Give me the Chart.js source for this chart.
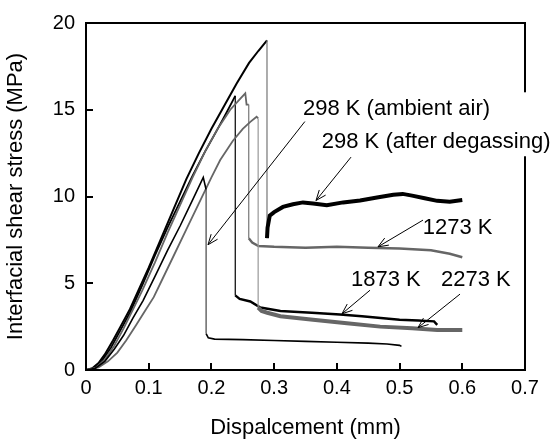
<!DOCTYPE html>
<html>
<head>
<meta charset="utf-8">
<title>Interfacial shear stress vs displacement</title>
<script src="https://cdn.jsdelivr.net/npm/chart.js@4.4.1/dist/chart.umd.min.js"></script>
<style>
    html, body { margin: 0; padding: 0; background: #fff; }
    canvas { display: block; }
</style>
</head>
<body>
<canvas id="chart-stress" width="551" height="445"></canvas>
<script>
// tick values
var xTicks = [0, 0.1, 0.2, 0.3, 0.4, 0.5, 0.6, 0.7];
var yTicks = [0, 5, 10, 15, 20];

// 298 K (after degassing)
var degassedX = [0, 0.01, 0.02, 0.03, 0.043, 0.055, 0.07, 0.085, 0.10, 0.12, 0.14, 0.16, 0.18, 0.20, 0.22, 0.24, 0.26, 0.275, 0.2886,
    0.2886, 0.2895, 0.293, 0.30, 0.314, 0.33, 0.346, 0.362, 0.384, 0.41, 0.437, 0.464, 0.49, 0.505, 0.52, 0.54, 0.56, 0.58, 0.60];
var degassedY = [0, 0.1, 0.4, 0.9, 1.7, 2.5, 3.5, 4.7, 5.9, 7.6, 9.3, 11.0, 12.5, 13.9, 15.2, 16.5, 17.7, 18.4, 19.0,
    7.6, 8.2, 8.9, 9.1, 9.4, 9.55, 9.66, 9.6, 9.5, 9.66, 9.77, 9.94, 10.1, 10.15, 10.05, 9.9, 9.75, 9.7, 9.8];

// 1873 K
var k1873X = [0, 0.012, 0.025, 0.04, 0.055, 0.07, 0.09, 0.11, 0.13, 0.15, 0.17, 0.19, 0.21, 0.225, 0.238,
    0.238, 0.245, 0.262, 0.278, 0.31, 0.36, 0.405, 0.44, 0.47, 0.50, 0.53, 0.555, 0.56];
var k1873Y = [0, 0.1, 0.5, 1.3, 2.3, 3.3, 4.9, 6.6, 8.2, 9.7, 11.2, 12.6, 13.9, 14.9, 15.8,
    4.3, 4.1, 3.95, 3.6, 3.4, 3.3, 3.2, 3.1, 3.0, 2.9, 2.85, 2.8, 2.6];

// 1273 K
var k1273X = [0, 0.015, 0.03, 0.045, 0.06, 0.075, 0.09, 0.11, 0.13, 0.15, 0.17, 0.19, 0.21, 0.23, 0.245, 0.254, 0.256, 0.2595,
    0.2595, 0.265, 0.275, 0.30, 0.35, 0.40, 0.45, 0.50, 0.55, 0.58, 0.60];
var k1273Y = [0, 0.1, 0.6, 1.4, 2.4, 3.5, 4.6, 6.2, 7.9, 9.5, 11.1, 12.6, 13.9, 15.0, 15.6, 15.95, 15.3, 15.3,
    7.6, 7.35, 7.15, 7.1, 7.05, 7.1, 7.05, 7.0, 6.9, 6.7, 6.5];

// 2273 K
var k2273X = [0, 0.02, 0.035, 0.05, 0.064, 0.08, 0.094, 0.108, 0.12, 0.14, 0.16, 0.18, 0.20, 0.214, 0.234, 0.25, 0.262, 0.272, 0.2745,
    0.2745, 0.28, 0.289, 0.31, 0.362, 0.416, 0.469, 0.52, 0.56, 0.60];
var k2273Y = [0, 0.15, 0.5, 1.0, 1.7, 2.6, 3.4, 4.2, 5.1, 6.6, 8.1, 9.6, 11.1, 12.1, 13.2, 13.9, 14.3, 14.6, 14.5,
    3.6, 3.4, 3.3, 3.1, 2.9, 2.7, 2.5, 2.4, 2.3, 2.3];

// 298 K (ambient air)
var ambientX = [0, 0.015, 0.03, 0.045, 0.06, 0.075, 0.091, 0.11, 0.13, 0.15, 0.17, 0.187, 0.1915,
    0.1915, 0.195, 0.205, 0.25, 0.30, 0.35, 0.40, 0.45, 0.48, 0.50, 0.503];
var ambientY = [0, 0.1, 0.5, 1.2, 2.0, 3.0, 4.0, 5.4, 6.9, 8.3, 9.8, 11.1, 10.4,
    2.1, 1.85, 1.78, 1.75, 1.7, 1.65, 1.6, 1.55, 1.5, 1.42, 1.36];

// callout labels (left x, baseline y) and arrows, in data units
var labelText = ["298 K (ambient air)", "298 K (after degassing)", "1273 K", "1873 K", "2273 K"];
var labelX = [0.346, 0.376, 0.537, 0.4226, 0.566];
var labelY = [14.68, 12.78, 7.86, 4.83, 4.83];
var arrowFromX = [0.349, 0.4226, 0.5374, 0.4529, 0.5964];
var arrowFromY = [14.32, 12.27, 8.64, 4.60, 4.375];
var arrowToX = [0.1946, 0.3668, 0.4656, 0.4082, 0.5294];
var arrowToY = [7.22, 9.77, 7.10, 3.24, 2.44];

(function () {
    "use strict";

    var FONT = "'Liberation Sans', Arial, sans-serif";
    var BLACK = "#000";
    var GRAY = "#666";

    function pairs(xs, ys) {
        return xs.map(function (x, i) { return { x: x, y: ys[i] }; });
    }

    // index of the segment where the stress falls off (debonding)
    function dropIndex(ys) {
        var best = 0, k = 0;
        for (var i = 0; i < ys.length - 1; i++) {
            if (ys[i] - ys[i + 1] > best) {
                best = ys[i] - ys[i + 1];
                k = i;
            }
        }
        return k;
    }

    function makeSeries(label, xs, ys, style) {
        var drop = dropIndex(ys);
        return {
            label: label,
            data: pairs(xs, ys),
            borderColor: style.color,
            borderWidth: style.rise,
            pointRadius: 0,
            tension: 0,
            fill: false,
            segment: {
                borderColor: function (c) {
                    return c.p0DataIndex === drop ? style.dropColor : style.color;
                },
                borderWidth: function (c) {
                    if (c.p0DataIndex === drop) {
                        return 1.2;
                    }
                    return c.p0DataIndex > drop ? style.tail : style.rise;
                },
            },
        };
    }

    function drawArrow(ctx, x0, y0, x1, y1) {
        var ang = Math.atan2(y1 - y0, x1 - x0);
        var len = 11, spread = 0.38;
        ctx.beginPath();
        ctx.moveTo(x0, y0);
        ctx.lineTo(x1, y1);
        ctx.moveTo(x1 - len * Math.cos(ang - spread), y1 - len * Math.sin(ang - spread));
        ctx.lineTo(x1, y1);
        ctx.lineTo(x1 - len * Math.cos(ang + spread), y1 - len * Math.sin(ang + spread));
        ctx.stroke();
    }

    var framePlugin = {
        id: "frame",
        afterDatasetsDraw: function (chart) {
            var ctx = chart.ctx;
            var a = chart.chartArea;
            var sx = chart.scales.x;
            var sy = chart.scales.y;
            ctx.save();
            ctx.strokeStyle = BLACK;
            ctx.lineWidth = 2;
            ctx.strokeRect(a.left, a.top, a.right - a.left, a.bottom - a.top);

            // inward tick marks
            ctx.beginPath();
            xTicks.forEach(function (v) {
                var px = Math.round(sx.getPixelForValue(v));
                ctx.moveTo(px, a.bottom);
                ctx.lineTo(px, a.bottom - 7);
            });
            yTicks.forEach(function (v) {
                var py = Math.round(sy.getPixelForValue(v));
                ctx.moveTo(a.left, py);
                ctx.lineTo(a.left + 7, py);
            });
            ctx.stroke();

            ctx.font = "22px " + FONT;
            ctx.textBaseline = "alphabetic";
            ctx.textAlign = "left";

            // white box behind the two 298 K labels (it hides the right border)
            var x0 = Infinity, x1 = -Infinity, y0 = Infinity, y1 = -Infinity;
            for (var i = 0; i < 2; i++) {
                var m = ctx.measureText(labelText[i]);
                var lx = sx.getPixelForValue(labelX[i]);
                var ly = sy.getPixelForValue(labelY[i]);
                x0 = Math.min(x0, lx);
                x1 = Math.max(x1, lx + m.width);
                y0 = Math.min(y0, ly - m.fontBoundingBoxAscent);
                y1 = Math.max(y1, ly + m.actualBoundingBoxDescent);
            }
            ctx.fillStyle = "#fff";
            ctx.fillRect(x0 - 4, y0 - 3, x1 - x0 + 8, y1 - y0 + 6);

            ctx.lineWidth = 1;
            for (var j = 0; j < arrowFromX.length; j++) {
                drawArrow(ctx,
                    sx.getPixelForValue(arrowFromX[j]), sy.getPixelForValue(arrowFromY[j]),
                    sx.getPixelForValue(arrowToX[j]), sy.getPixelForValue(arrowToY[j]));
            }

            ctx.fillStyle = BLACK;
            for (var k = 0; k < labelText.length; k++) {
                ctx.fillText(labelText[k], sx.getPixelForValue(labelX[k]), sy.getPixelForValue(labelY[k]));
            }
            ctx.restore();
        },
    };

    function initChart() {
        var canvas = document.getElementById("chart-stress");
        if (!canvas || typeof Chart === "undefined") {
            return;
        }

        new Chart(canvas, {
            type: "line",
            data: {
                datasets: [
                    makeSeries("298 K (ambient air)", ambientX, ambientY, { color: BLACK, dropColor: "#444", rise: 1.6, tail: 1.6 }),
                    makeSeries("2273 K", k2273X, k2273Y, { color: GRAY, dropColor: "#999", rise: 1.8, tail: 4 }),
                    makeSeries("1273 K", k1273X, k1273Y, { color: GRAY, dropColor: "#777", rise: 1.8, tail: 2.4 }),
                    makeSeries("1873 K", k1873X, k1873Y, { color: BLACK, dropColor: BLACK, rise: 1.8, tail: 2.4 }),
                    makeSeries("298 K (after degassing)", degassedX, degassedY, { color: BLACK, dropColor: "#777", rise: 2, tail: 4 }),
                ],
            },
            options: {
                responsive: false,
                animation: false,
                layout: { padding: { top: 18, right: 26, left: 0, bottom: 0 } },
                plugins: {
                    legend: { display: false },
                    tooltip: { enabled: false },
                },
                scales: {
                    x: {
                        type: "linear",
                        min: 0,
                        max: 0.7,
                        afterBuildTicks: function (scale) {
                            scale.ticks = xTicks.map(function (v) { return { value: v }; });
                        },
                        afterFit: function (scale) { scale.height = 75; },
                        grid: { display: false, drawTicks: false },
                        border: { display: false },
                        ticks: {
                            color: BLACK,
                            padding: 6,
                            maxRotation: 0,
                            font: { family: FONT, size: 20 },
                            callback: function (v) { return String(v); },
                        },
                        title: {
                            display: true,
                            text: "Dispalcement (mm)",
                            color: BLACK,
                            padding: { top: 0, bottom: 4 },
                            font: { family: FONT, size: 22 },
                        },
                    },
                    y: {
                        min: 0,
                        max: 20,
                        afterBuildTicks: function (scale) {
                            scale.ticks = yTicks.map(function (v) { return { value: v }; });
                        },
                        afterFit: function (scale) { scale.width = 86; },
                        grid: { display: false, drawTicks: false },
                        border: { display: false },
                        ticks: {
                            color: BLACK,
                            padding: 11,
                            font: { family: FONT, size: 20 },
                        },
                        title: {
                            display: true,
                            text: "Interfacial shear stress (MPa)",
                            color: BLACK,
                            padding: { top: 3, bottom: 0 },
                            font: { family: FONT, size: 22 },
                        },
                    },
                },
            },
            plugins: [framePlugin],
        });
    }

    if (document.readyState === "loading") {
        document.addEventListener("DOMContentLoaded", initChart);
    } else {
        initChart();
    }
})();
</script>
</body>
</html>
